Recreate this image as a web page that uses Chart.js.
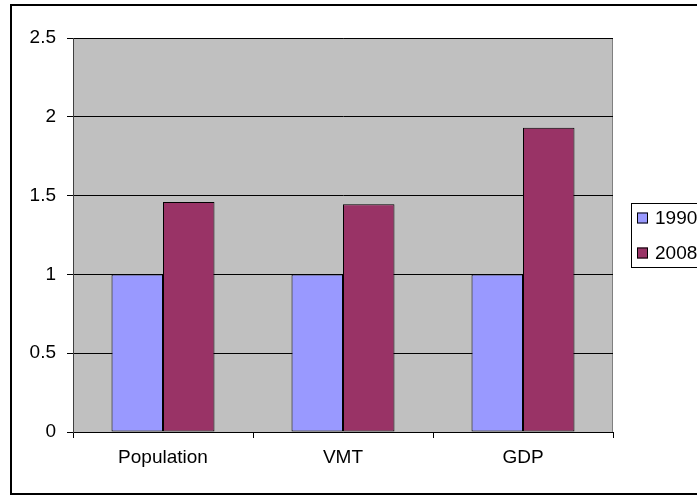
<!DOCTYPE html>
<html><head><meta charset="utf-8">
<script src="https://cdn.jsdelivr.net/npm/chart.js@4.4.1/dist/chart.umd.min.js"></script>
<style>html,body{margin:0;padding:0;background:#fff;overflow:hidden}</style>
</head><body>
<canvas id="c" width="697" height="497"></canvas>
<script>
const categories = ['Population', 'VMT', 'GDP'];
const seriesLabels = ['1990', '2008'];
const values1990 = [1, 1, 1];
const values2008 = [1.46, 1.445, 1.93];
const yTickLabels = ['0', '0.5', '1', '1.5', '2', '2.5'];
const yMin = 0, yMax = 2.5, yStep = 0.5;

const FONT = '"Liberation Sans", Arial, sans-serif';
const FSIZE = 19;

const framePlugin = {
  id: 'frame',
  beforeDraw(chart) {
    const ctx = chart.ctx, a = chart.chartArea;
    ctx.save();
    ctx.fillStyle = '#ffffff';
    ctx.fillRect(0, 0, chart.width, chart.height);
    ctx.fillStyle = '#C0C0C0';
    ctx.fillRect(a.left, a.top, a.right - a.left, a.bottom - a.top);
    ctx.strokeStyle = '#808080';
    ctx.lineWidth = 1;
    ctx.beginPath();
    ctx.moveTo(a.left, a.top + 0.5);
    ctx.lineTo(a.right - 0.5, a.top + 0.5);
    ctx.lineTo(a.right - 0.5, a.bottom);
    ctx.stroke();
    ctx.restore();
  },
  afterDraw(chart) {
    const ctx = chart.ctx;
    ctx.save();
    // outer chart border (right edge lies beyond the picture)
    ctx.strokeStyle = '#000000';
    ctx.lineWidth = 2;
    ctx.strokeRect(11, 5, 720, 489);
    // legend
    const lx = 631, ly = 203, lw = 120, lh = 64;
    ctx.lineWidth = 1;
    ctx.strokeRect(lx + 0.5, ly + 0.5, lw, lh);
    const ds = chart.data.datasets;
    const centers = [218, 253];
    ctx.font = FSIZE + 'px ' + FONT;
    ctx.textBaseline = 'middle';
    ctx.textAlign = 'left';
    ds.forEach((d, i) => {
      const cy = centers[i];
      ctx.fillStyle = d.backgroundColor;
      ctx.fillRect(637, cy - 5.5, 11, 11);
      ctx.strokeStyle = '#000000';
      ctx.strokeRect(637.5, cy - 5, 10, 10);
      ctx.fillStyle = '#000000';
      ctx.fillText(d.label, 655, cy + 1);
    });
    ctx.restore();
  }
};

new Chart(document.getElementById('c'), {
  type: 'bar',
  data: {
    labels: categories,
    datasets: [
      { label: seriesLabels[0], data: values1990, backgroundColor: '#9999FF', borderColor: '#000000', borderWidth: 1,
        borderSkipped: false, categoryPercentage: 0.572, barPercentage: 1 },
      { label: seriesLabels[1], data: values2008, backgroundColor: '#993366', borderColor: '#000000', borderWidth: 1,
        borderSkipped: false, categoryPercentage: 0.572, barPercentage: 1 }
    ]
  },
  options: {
    responsive: false,
    animation: false,
    devicePixelRatio: 1,
    layout: { padding: { left: 0, top: 38, right: 84, bottom: 0 } },
    plugins: { legend: { display: false }, tooltip: { enabled: false } },
    scales: {
      x: {
        afterFit(s) { s.height = 65; },
        grid: { drawOnChartArea: false, drawTicks: true, tickLength: 6, color: '#000000', offset: true },
        border: { color: '#000000', width: 1 },
        ticks: { color: '#000000', font: { family: FONT, size: FSIZE }, padding: 8, maxRotation: 0 }
      },
      y: {
        min: yMin, max: yMax,
        afterFit(s) { s.width = 73; },
        grid: { color: '#000000', tickLength: 6, drawTicks: true },
        border: { color: '#404040', width: 1 },
        ticks: { stepSize: yStep, color: '#000000', font: { family: FONT, size: FSIZE }, padding: 11,
          callback: (v, i) => yTickLabels[i] }
      }
    }
  },
  plugins: [framePlugin]
});
</script>
</body></html>
